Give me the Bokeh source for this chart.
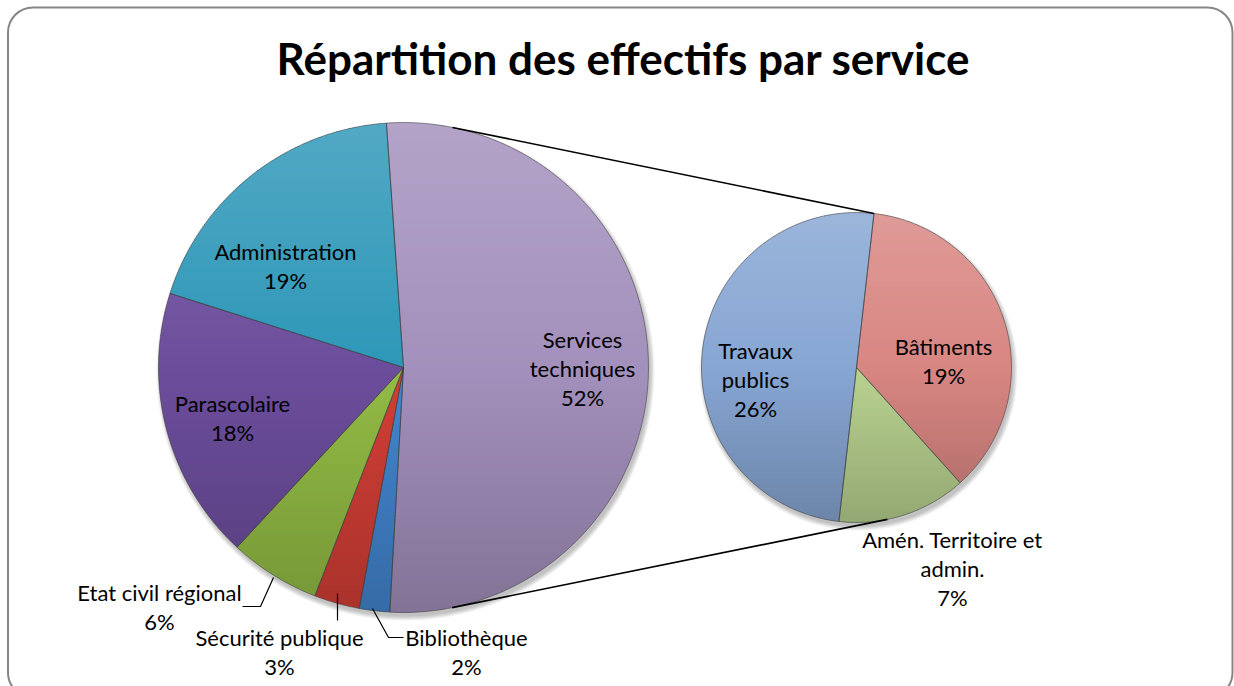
import numpy as np
from bokeh.plotting import figure
from bokeh.models import Range1d, BoxAnnotation
from bokeh.core.properties import value
from bokeh.embed import file_html
from bokeh.resources import INLINE

# ---------------- data ----------------
title = "Répartition des effectifs par service"

sub_categories = ["Bâtiments", "Amén. Territoire et admin.", "Travaux publics"]
sub_values = [19, 7, 26]

main_categories = ["Services techniques", "Bibliothèque", "Sécurité publique",
                   "Etat civil régional", "Parascolaire", "Administration"]
main_values = [sum(sub_values), 2, 3, 6, 18, 19]

main_colors = ["#A390BC", "#4386D0", "#D33F36", "#93BC45", "#6C4D9C", "#2E97B8"]
sub_colors = ["#D88682", "#B9D290", "#87A6D3"]

# label text lines (wrapping as in the picture)
main_label_lines = [["Services", "techniques"], ["Bibliothèque"], ["Sécurité publique"],
                    ["Etat civil régional"], ["Parascolaire"], ["Administration"]]
sub_label_lines = [["Bâtiments"], ["Amén. Territoire et", "admin."], ["Travaux", "publics"]]

# ---------------- layout ----------------
W, H = 1234, 686
MAIN_C, MAIN_R, MAIN_START = (403.0, 367.0), 245.0, -4.0
SUB_C, SUB_R, SUB_START = (856.0, 367.0), 155.0, 6.5
SUB_BOTTOM_LINK = 168.5
LINE_H = 29

main_label_pos = [(582, 368), (466, 651), (279, 651), (159, 606), (232, 417), (285, 265)]
sub_label_pos = [(943, 360), (952, 568), (755, 379)]

p = figure(width=W, height=H, x_range=Range1d(0, W), y_range=Range1d(H, 0),
           output_backend="svg", toolbar_location=None, min_border=0,
           x_axis_location=None, y_axis_location=None)
p.grid.visible = False
p.outline_line_color = None
p.background_fill_color = "white"
p.border_fill_color = "white"


def hex2rgb(h):
    h = h.lstrip("#")
    return np.array([int(h[i:i + 2], 16) for i in (0, 2, 4)], dtype=float)


def rgb2hex(c):
    c = np.clip(np.round(c), 0, 255).astype(int)
    return "#%02x%02x%02x" % tuple(c)


def shade(base, t):
    # t in [0,1] from top to bottom of the pie
    c = hex2rgb(base)
    if t < 0.5:
        k = 0.17 * (1 - 2 * t)
        c = c + (255 - c) * k
    else:
        k = 0.2 * (2 * t - 1)
        c = c * (1 - k)
    return rgb2hex(c)


def wedge_poly(cx, cy, r, a0, a1):
    n = max(4, int(abs(a1 - a0) / 1.5) + 2)
    th = np.radians(np.linspace(a0, a1, n))
    xs = np.concatenate([[cx], cx + r * np.sin(th)])
    ys = np.concatenate([[cy], cy - r * np.cos(th)])
    return list(xs), list(ys)


def clip_band(xs, ys, ymin, ymax):
    pts = list(zip(xs, ys))

    def half(pts, keep, y0):
        out = []
        n = len(pts)
        for i in range(n):
            P, Q = pts[i], pts[(i + 1) % n]
            pin, qin = keep(P), keep(Q)
            if pin:
                out.append(P)
            if pin != qin:
                t = (y0 - P[1]) / (Q[1] - P[1])
                out.append((P[0] + t * (Q[0] - P[0]), y0))
        return out

    pts = half(pts, lambda P: P[1] >= ymin, ymin)
    if len(pts) < 3:
        return None
    pts = half(pts, lambda P: P[1] <= ymax, ymax)
    if len(pts) < 3:
        return None
    return [q[0] for q in pts], [q[1] for q in pts]


def draw_pie(center, r, start, values, colors):
    cx, cy = center
    total = float(sum(values))
    # soft shadow
    th = np.radians(np.linspace(0, 360, 181))
    for k in range(5):
        p.patch(cx + 2 + (r + k) * np.sin(th), cy + 4 + (r + k) * np.cos(th),
                fill_color="#000000", fill_alpha=0.05, line_color=None)
    angles = []
    a = start
    for v in values:
        a1 = a + 360.0 * v / total
        angles.append((a, a1))
        a = a1
    band = 3.0
    ytop = cy - r
    bx, by, bc = [], [], []
    for (a0, a1), col in zip(angles, colors):
        xs, ys = wedge_poly(cx, cy, r, a0, a1)
        y = ytop
        while y < cy + r:
            res = clip_band(xs, ys, y, y + band + 0.8)
            if res is not None:
                bx.append(res[0]); by.append(res[1])
                bc.append(shade(col, (y + band / 2 - ytop) / (2 * r)))
            y += band
    p.patches(bx, by, fill_color=bc, line_color=None)
    # outlines
    ox, oy = [], []
    for a0, a1 in angles:
        xs, ys = wedge_poly(cx, cy, r, a0, a1)
        ox.append(xs); oy.append(ys)
    p.patches(ox, oy, fill_color=None, line_color="#3c3c3c", line_alpha=0.55, line_width=1)
    return angles


def pt(center, r, ang):
    return center[0] + r * np.sin(np.radians(ang)), center[1] - r * np.cos(np.radians(ang))


def tangent_angle(center, r, ext, upper):
    dx, dy = ext[0] - center[0], ext[1] - center[1]
    d = np.hypot(dx, dy)
    base = np.degrees(np.arctan2(dx, -dy))
    off = np.degrees(np.arccos(r / d))
    return base - off if upper else base + off


draw_pie(MAIN_C, MAIN_R, MAIN_START, main_values, main_colors)
draw_pie(SUB_C, SUB_R, SUB_START, sub_values, sub_colors)

# connector lines between pies (tangent to the main pie)
s_top = pt(SUB_C, SUB_R, SUB_START)
s_bot = pt(SUB_C, SUB_R, SUB_BOTTOM_LINK)
m_top = pt(MAIN_C, MAIN_R, tangent_angle(MAIN_C, MAIN_R, s_top, True))
m_bot = pt(MAIN_C, MAIN_R, tangent_angle(MAIN_C, MAIN_R, s_bot, False))
p.multi_line([[m_top[0], s_top[0]], [m_bot[0], s_bot[0]]],
             [[m_top[1], s_top[1]], [m_bot[1], s_bot[1]]],
             line_color="black", line_width=1.6)

# leader lines for small slices
p.multi_line([[242, 260, 273], [337, 337], [372, 388, 403]],
             [[606, 606, 577], [593, 620], [608, 637, 637]],
             line_color="black", line_width=1.2)

# labels
grand_total = float(sum(main_values))
tx, ty, tt = [], [], []
for lines, v, (lx, ly) in list(zip(main_label_lines, main_values, main_label_pos)) + \
        list(zip(sub_label_lines, sub_values, sub_label_pos)):
    all_lines = lines + ["%d%%" % round(100 * v / grand_total)]
    n = len(all_lines)
    for i, s in enumerate(all_lines):
        tx.append(lx)
        ty.append(ly + (i - (n - 1) / 2) * LINE_H)
        tt.append(s)
p.text(tx, ty, text=tt, text_font=value("Lato"), text_font_size="22px",
       text_align="center", text_baseline="middle", text_color="#000000")

p.text([623], [57], text=[title], text_font=value("Lato"), text_font_size="44px",
       text_font_style="bold", text_align="center", text_baseline="middle",
       text_color="#000000")

# rounded frame
p.add_layout(BoxAnnotation(left=7.5, right=1232, top=7, bottom=697, border_radius=25,
                           fill_alpha=0, line_color="#868686", line_alpha=1.0,
                           line_width=2))

open("out.html", "w").write(file_html(p, INLINE))
